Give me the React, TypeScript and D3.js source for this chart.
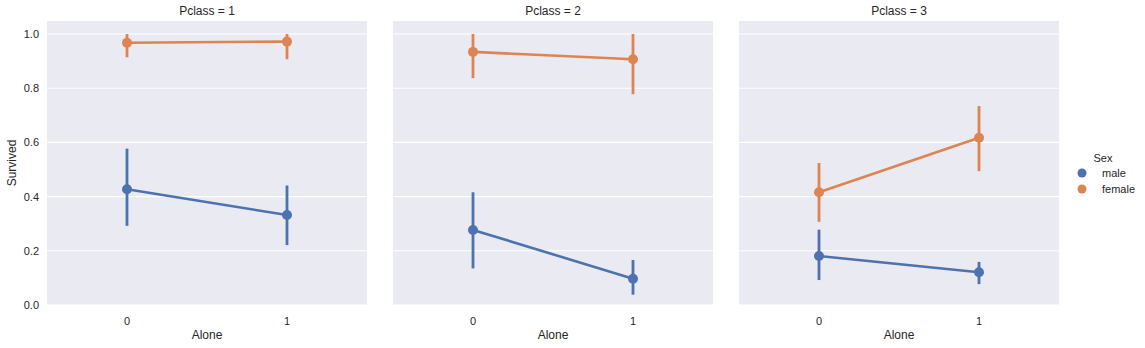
import React from "react";
import * as d3 from "d3";

const pclasses = ["1", "2", "3"];
const aloneCats = ["0", "1"];
const sexes = ["male", "female"];
const colors = ["#4c72b0", "#dd8452"];
const yTicks = [0, 0.2, 0.4, 0.6, 0.8, 1.0];

// mean, ci low, ci high per pclass per Alone
const maleMean = [[0.427, 0.332], [0.277, 0.097], [0.181, 0.121]];
const maleLo = [[0.292, 0.221], [0.135, 0.038], [0.092, 0.077]];
const maleHi = [[0.577, 0.441], [0.416, 0.166], [0.278, 0.159]];
const femaleMean = [[0.968, 0.972], [0.934, 0.907], [0.416, 0.617]];
const femaleLo = [[0.914, 0.907], [0.837, 0.778], [0.307, 0.494]];
const femaleHi = [[1.0, 1.0], [1.0, 1.0], [0.524, 0.734]];

const W = 1145, H = 348;
const panelLefts = [47, 393, 739];
const panelW = 320;
const top = 21, bottom = 305;
const font = "'Liberation Sans', Arial, sans-serif";
const txt = "#262626";

export default function App() {
  const y = d3.scaleLinear().domain([0, 1.048]).range([bottom, top]);
  const series = [
    { mean: maleMean, lo: maleLo, hi: maleHi },
    { mean: femaleMean, lo: femaleLo, hi: femaleHi },
  ];
  return (
    <svg width={W} height={H} style={{ position: "absolute", left: 0, top: 0 }} fontFamily={font}>
      <rect width={W} height={H} fill="#fff" />
      {pclasses.map((pc, pi) => {
        const x = d3.scalePoint().domain(aloneCats).range([panelLefts[pi] + 80, panelLefts[pi] + 240]);
        const line = d3.line<[string, number]>().x(d => x(d[0])!).y(d => y(d[1]));
        return (
          <g key={pc}>
            <rect x={panelLefts[pi]} y={top} width={panelW} height={bottom - top} fill="#eaeaf2" />
            {yTicks.map(t => (
              <line key={t} x1={panelLefts[pi]} x2={panelLefts[pi] + panelW} y1={y(t)} y2={y(t)} stroke="#fff" strokeWidth={1.1} />
            ))}
            <text x={panelLefts[pi] + panelW / 2} y={15} textAnchor="middle" fontSize={12} fill={txt}>{`Pclass = ${pc}`}</text>
            {aloneCats.map(a => (
              <text key={a} x={x(a)} y={325} textAnchor="middle" fontSize={11} fill={txt}>{a}</text>
            ))}
            <text x={panelLefts[pi] + panelW / 2} y={339} textAnchor="middle" fontSize={12} fill={txt}>Alone</text>
            {pi === 0 && yTicks.map(t => (
              <text key={t} x={39} y={y(t) + 4} textAnchor="end" fontSize={11} fill={txt}>{t.toFixed(1)}</text>
            ))}
            {series.map((s, si) => {
              const pts: [string, number][] = aloneCats.map((a, ai) => [a, s.mean[pi][ai]]);
              return (
                <g key={si}>
                  {aloneCats.map((a, ai) => (
                    <line key={a} x1={x(a)} x2={x(a)} y1={y(s.lo[pi][ai])} y2={y(s.hi[pi][ai])} stroke={colors[si]} strokeWidth={2.8} />
                  ))}
                  <path d={line(pts)!} fill="none" stroke={colors[si]} strokeWidth={2.6} />
                  {pts.map(p => (
                    <circle key={p[0]} cx={x(p[0])} cy={y(p[1])} r={5} fill={colors[si]} />
                  ))}
                </g>
              );
            })}
          </g>
        );
      })}
      <text x={16} y={163} transform="rotate(-90 16 163)" textAnchor="middle" fontSize={12} fill={txt}>Survived</text>
      <text x={1103} y={162} textAnchor="middle" fontSize={11} fill={txt}>Sex</text>
      {sexes.map((s, i) => (
        <g key={s}>
          <circle cx={1082} cy={173 + i * 16} r={4.5} fill={colors[i]} />
          <text x={1102} y={177 + i * 16} fontSize={11} fill={txt}>{s}</text>
        </g>
      ))}
    </svg>
  );
}
